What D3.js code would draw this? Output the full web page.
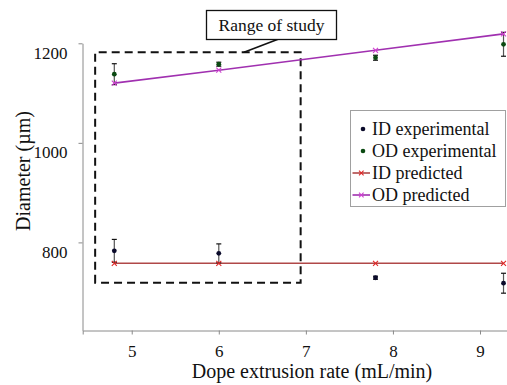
<!DOCTYPE html>
<html>
<head>
<meta charset="utf-8">
<script src="https://cdn.jsdelivr.net/npm/d3@7"></script>
<style>
  html, body { margin: 0; padding: 0; background: #fff; }
  svg { display: block; }
  text { font-family: "Liberation Serif", "DejaVu Serif", serif; fill: #111; }
</style>
</head>
<body>
<svg id="chart" width="507" height="385"></svg>
<script>
// ---- data ----
const rates = [4.8, 6.0, 7.8, 9.27];            // mL/min
const idExp = [783, 778, 729, 718];             // ID experimental (µm)
const idErr = [23, 19, 3, 20];
const odExp = [1138, 1158, 1171, 1198];         // OD experimental (µm)
const odErr = [21, 4, 5, 24];
const idPred = [758, 758, 758, 758];            // ID predicted
const odPred = [1120, 1146, 1186, 1219];        // OD predicted
const xTicks = [5, 6, 7, 8, 9];
const yTicks = [800, 1000, 1200];
const studyX = [4.58, 6.94];                    // dashed "Range of study" box
const studyY = [719, 1182];
const legendLabels = ["ID experimental", "OD experimental", "ID predicted", "OD predicted"];

// ---- scales ----
const x = d3.scaleLinear().domain([4.437, 9.31]).range([82.7, 507]);
const y = d3.scaleLinear().domain([623, 1200]).range([330.5, 43.3]);

const FONT = "'Liberation Serif', 'DejaVu Serif', serif";
const svg = d3.select("#chart");
const axisColor = "#8a8a8a";
const idCol = "#0a0a2a", odCol = "#0b4a12";
const idLine = "#b04848", odLine = "#a030b0";
const idMark = "#e02828", odMark = "#d040d0";

// ---- axes ----
const gy = svg.append("g").attr("transform", "translate(82.5,0)")
  .call(d3.axisLeft(y).tickValues(yTicks).tickSizeInner(4).tickSizeOuter(0).tickFormat(d3.format("d")));
gy.attr("font-family", FONT).attr("font-size", 17);
gy.select(".domain").attr("stroke", axisColor);
gy.selectAll(".tick line").attr("stroke", axisColor);
gy.selectAll(".tick text").attr("x", -15).attr("dy", null).attr("y", 15).attr("fill", "#111");

const gx = svg.append("g").attr("transform", "translate(0,330.5)")
  .call(d3.axisBottom(x).tickValues(xTicks).tickSizeInner(4).tickSizeOuter(4).tickFormat(d3.format("d")));
gx.attr("font-family", FONT).attr("font-size", 17);
gx.select(".domain").attr("stroke", axisColor);
gx.selectAll(".tick line").attr("stroke", axisColor);
gx.selectAll(".tick text").attr("y", 26).attr("dy", null).attr("fill", "#111");

// axis titles
svg.append("text").attr("x", 312).attr("y", 378).attr("text-anchor", "middle")
  .attr("font-family", FONT).attr("font-size", 20).text("Dope extrusion rate (mL/min)");
svg.append("text").attr("transform", "translate(29.5,171) rotate(-90)").attr("text-anchor", "middle")
  .attr("font-family", FONT).attr("font-size", 20).text("Diameter (µm)");

// ---- dashed range box ----
svg.append("path")
  .attr("d", `M${x(studyX[0])},${y(studyY[0])} L${x(studyX[0])},${y(studyY[1])} L${x(studyX[1])},${y(studyY[1])} L${x(studyX[1])},${y(studyY[0])} Z`)
  .attr("fill", "none").attr("stroke", "#111").attr("stroke-width", 2).attr("stroke-dasharray", "8,5");

// callout
svg.append("line").attr("x1", 278).attr("y1", 39.3).attr("x2", 244).attr("y2", y(studyY[1]))
  .attr("stroke", "#111").attr("stroke-width", 1.6);
svg.append("rect").attr("x", 206.5).attr("y", 10.5).attr("width", 130).attr("height", 29)
  .attr("fill", "#fff").attr("stroke", "#111").attr("stroke-width", 1.3);
svg.append("text").attr("x", 271.5).attr("y", 31).attr("text-anchor", "middle")
  .attr("font-family", FONT).attr("font-size", 17.5).text("Range of study");

// ---- predicted lines ----
const lineGen = d3.line().x((d, i) => x(rates[i])).y(d => y(d));
function crossMarks(vals, col) {
  const g = svg.append("g");
  vals.forEach((v, i) => {
    const cx = x(rates[i]), cy = y(v), s = 2.5;
    g.append("path").attr("d", `M${cx - s},${cy - s}L${cx + s},${cy + s}M${cx - s},${cy + s}L${cx + s},${cy - s}`)
      .attr("stroke", col).attr("stroke-width", 1.1);
  });
}
svg.append("path").datum(idPred).attr("d", lineGen).attr("fill", "none").attr("stroke", idLine).attr("stroke-width", 1.6);
svg.append("path").datum(odPred).attr("d", lineGen).attr("fill", "none").attr("stroke", odLine).attr("stroke-width", 1.6);

// ---- experimental with error bars ----
function expSeries(vals, errs, col) {
  const g = svg.append("g");
  vals.forEach((v, i) => {
    const cx = x(rates[i]);
    g.append("line").attr("x1", cx).attr("x2", cx).attr("y1", y(v + errs[i])).attr("y2", y(v - errs[i]))
      .attr("stroke", "#555").attr("stroke-width", 1.2);
    [v + errs[i], v - errs[i]].forEach(e => {
      g.append("line").attr("x1", cx - 2.5).attr("x2", cx + 2.5).attr("y1", y(e)).attr("y2", y(e))
        .attr("stroke", "#111").attr("stroke-width", 1.2);
    });
    g.append("circle").attr("cx", cx).attr("cy", y(v)).attr("r", 2.4).attr("fill", col);
  });
}
expSeries(idExp, idErr, idCol);
expSeries(odExp, odErr, odCol);
crossMarks(idPred, idMark);
crossMarks(odPred, odMark);

// ---- legend ----
const lg = svg.append("g");
lg.append("rect").attr("x", 350.5).attr("y", 110.5).attr("width", 155).attr("height", 96)
  .attr("fill", "#fff").attr("stroke", "#a0a0a0").attr("stroke-width", 1);
const rowBase = [135, 157, 179, 201];
legendLabels.forEach((lab, i) => {
  const by = rowBase[i], my = by - 6;
  if (i < 2) {
    lg.append("circle").attr("cx", 363).attr("cy", my).attr("r", 2.3).attr("fill", i === 0 ? idCol : odCol);
  } else {
    const lc = i === 2 ? idLine : odLine, mc = i === 2 ? idMark : odMark;
    lg.append("line").attr("x1", 352.5).attr("x2", 370).attr("y1", my).attr("y2", my).attr("stroke", lc).attr("stroke-width", 1.6);
    const s = 2.3, cx = 361.3;
    lg.append("path").attr("d", `M${cx - s},${my - s}L${cx + s},${my + s}M${cx - s},${my + s}L${cx + s},${my - s}`)
      .attr("stroke", mc).attr("stroke-width", 1.1);
  }
  lg.append("text").attr("x", 372).attr("y", by).attr("font-family", FONT).attr("font-size", 18).text(lab);
});
</script>
</body>
</html>
